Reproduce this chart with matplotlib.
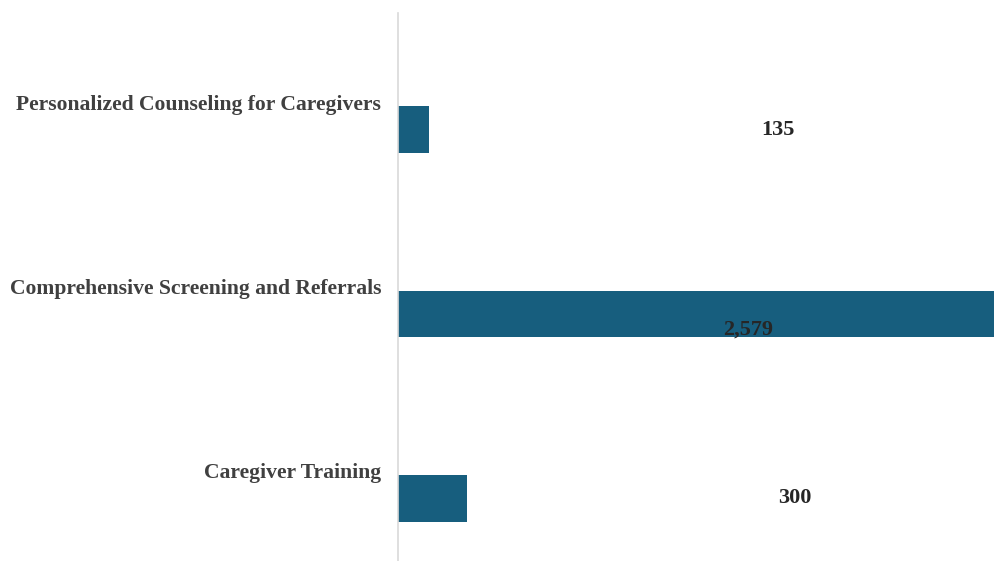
import matplotlib
matplotlib.use('Agg')
import matplotlib.pyplot as plt

# data
categories = ['Personalized Counseling for Caregivers',
              'Comprehensive Screening and Referrals',
              'Caregiver Training']
values = [135, 2579, 300]
value_labels = ['135', '2,579', '300']

# where the value labels sit (axes fraction in x, points below bar centre)
label_x = [0.638, 0.587, 0.666]
label_dy = [0, -11, 0]

bar_color = '#175e7e'
font = 'Liberation Serif'

fig = plt.figure(figsize=(9.94, 5.61), dpi=100)
ax = fig.add_axes([0.4004, 0.0, 0.5996, 0.977])

ypos = list(range(len(categories)))
ax.barh(ypos, values, height=0.255, color=bar_color)

ax.set_xlim(0, 2578)
ax.set_ylim(2.342, -0.636)

for spine in ['top', 'right', 'bottom']:
    ax.spines[spine].set_visible(False)
ax.spines['left'].set_color('#d9d9d9')
ax.spines['left'].set_linewidth(1.2)
ax.set_xticks([])
ax.set_yticks([])

# category labels, a bit above the bars
for y, cat in zip(ypos, categories):
    ax.annotate(cat, xy=(0, y), xycoords=('axes fraction', 'data'),
                xytext=(-12, 18), textcoords='offset points',
                ha='right', va='center', fontsize=15.6, fontweight='bold',
                family=font, color='#404040')

# value labels
for y, lab, lx, dy in zip(ypos, value_labels, label_x, label_dy):
    ax.annotate(lab, xy=(lx, y), xycoords=('axes fraction', 'data'),
                xytext=(0, dy), textcoords='offset points',
                ha='center', va='center', fontsize=16, fontweight='bold',
                family=font, color='#262626')

fig.savefig('out.png', dpi=100)
